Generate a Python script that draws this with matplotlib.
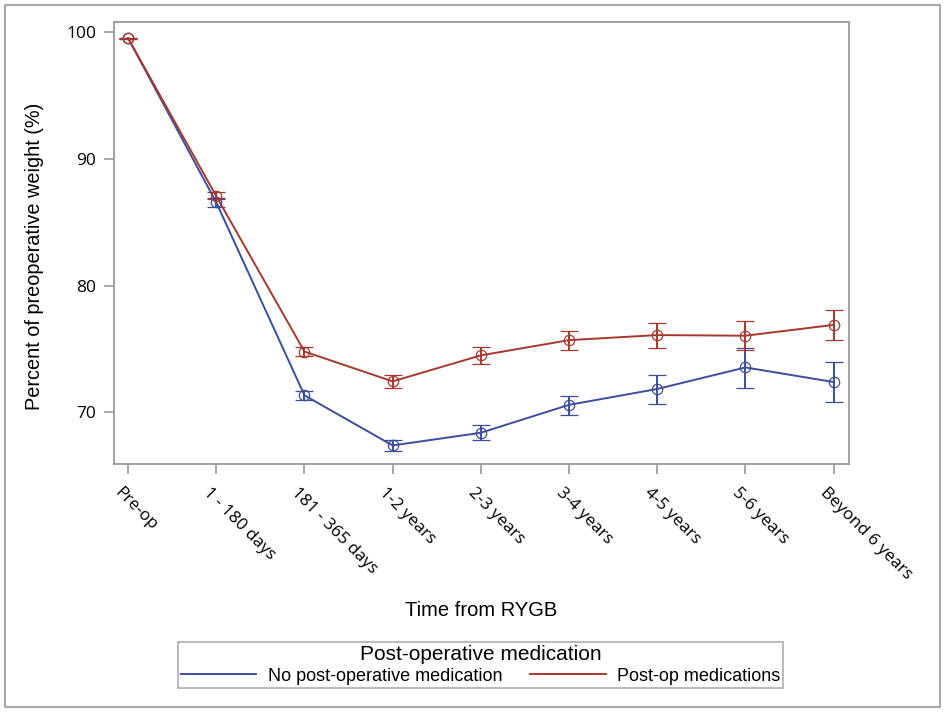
import matplotlib.pyplot as plt
from matplotlib.patches import Rectangle
from matplotlib.transforms import ScaledTranslation

# time points after surgery
periods = ['Pre-op', '1 - 180 days', '181 - 365 days', '1-2 years', '2-3 years',
           '3-4 years', '4-5 years', '5-6 years', 'Beyond 6 years']

# no post-operative medication: mean, lower, upper
no_med = [99.5, 86.55, 71.35, 67.4, 68.4, 70.6, 71.85, 73.55, 72.4]
no_med_lo = [99.45, 86.2, 71.0, 66.95, 67.8, 69.8, 70.7, 71.9, 70.8]
no_med_hi = [99.55, 86.9, 71.7, 67.8, 69.05, 71.3, 72.95, 75.05, 74.0]

# post-op medications: mean, lower, upper
med = [99.5, 87.05, 74.8, 72.45, 74.5, 75.7, 76.1, 76.05, 76.9]
med_lo = [99.45, 86.85, 74.45, 71.9, 73.85, 74.95, 75.1, 74.9, 75.7]
med_hi = [99.55, 87.35, 75.15, 72.95, 75.15, 76.45, 77.05, 77.2, 78.1]

blue = '#3B4E9E'
red = '#A8382D'
grey = '#9A9A9A'

fig = plt.figure(figsize=(9.46, 7.12), dpi=100)
ax = fig.add_axes([0.1205, 0.348, 0.7765, 0.6215])

x = list(range(len(periods)))


def draw(vals, lo, hi, color, label):
    err = [[v - l for v, l in zip(vals, lo)], [h - v for v, h in zip(vals, hi)]]
    ax.errorbar(x, vals, yerr=err, color=color, lw=1.4, capsize=6.5, capthick=1.4,
                elinewidth=1.4, marker='o', ms=7.5, mfc='none', mec=color, mew=0.9,
                label=label)


draw(no_med, no_med_lo, no_med_hi, blue, 'No post-operative medication')
draw(med, med_lo, med_hi, red, 'Post-op medications')

ax.set_xlim(-0.16, 8.17)
ax.set_ylim(65.92, 100.8)
ax.set_yticks([70, 80, 90, 100])
ax.set_xticks(x)
ax.tick_params(direction='out', length=7, width=1.2, color=grey, pad=6)
ax.tick_params(axis='x', pad=8)
ax.set_xticklabels(periods, rotation=-45, ha='left', va='top',
                   rotation_mode='anchor', fontfamily='Open Sans', fontsize=12.3)
for lab in ax.get_yticklabels():
    lab.set_fontfamily('Open Sans')
    lab.set_fontsize(12.5)
# nudge the rotated labels left like the reference
shift = ScaledTranslation(-5 / 100, 0, fig.dpi_scale_trans)
for lab in ax.get_xticklabels():
    lab.set_transform(lab.get_transform() + shift)
for s in ax.spines.values():
    s.set_color(grey)
    s.set_linewidth(1.3)

ax.set_xlabel('Time from RYGB', fontfamily='Liberation Sans', fontsize=14.5, labelpad=13)
ax.set_ylabel('Percent of preoperative weight (%)', fontfamily='Liberation Sans',
              fontsize=14.3)
ax.yaxis.set_label_coords(-0.095, 0.47)

# legend with plain line handles
handles = [plt.Line2D([], [], color=blue, lw=1.4), plt.Line2D([], [], color=red, lw=1.4)]
leg = fig.legend(handles, ['No post-operative medication', 'Post-op medications'],
                 title='Post-operative medication', ncol=2, loc='center',
                 bbox_to_anchor=(0.508, 0.066), fancybox=False, frameon=True,
                 prop={'family': 'Liberation Sans', 'size': 13},
                 handlelength=4.2, columnspacing=1.5, borderpad=0.15,
                 handletextpad=0.65, borderaxespad=0, labelspacing=0.2)
leg.get_title().set_fontfamily('Liberation Sans')
leg.get_title().set_fontsize(15)
leg.get_frame().set_edgecolor(grey)
leg.get_frame().set_linewidth(1.2)

fig.patches.append(Rectangle((0.005, 0.007), 0.989, 0.986, transform=fig.transFigure,
                             fill=False, edgecolor='#A8A8A8', lw=1.5))

fig.savefig('out.png', dpi=100)
